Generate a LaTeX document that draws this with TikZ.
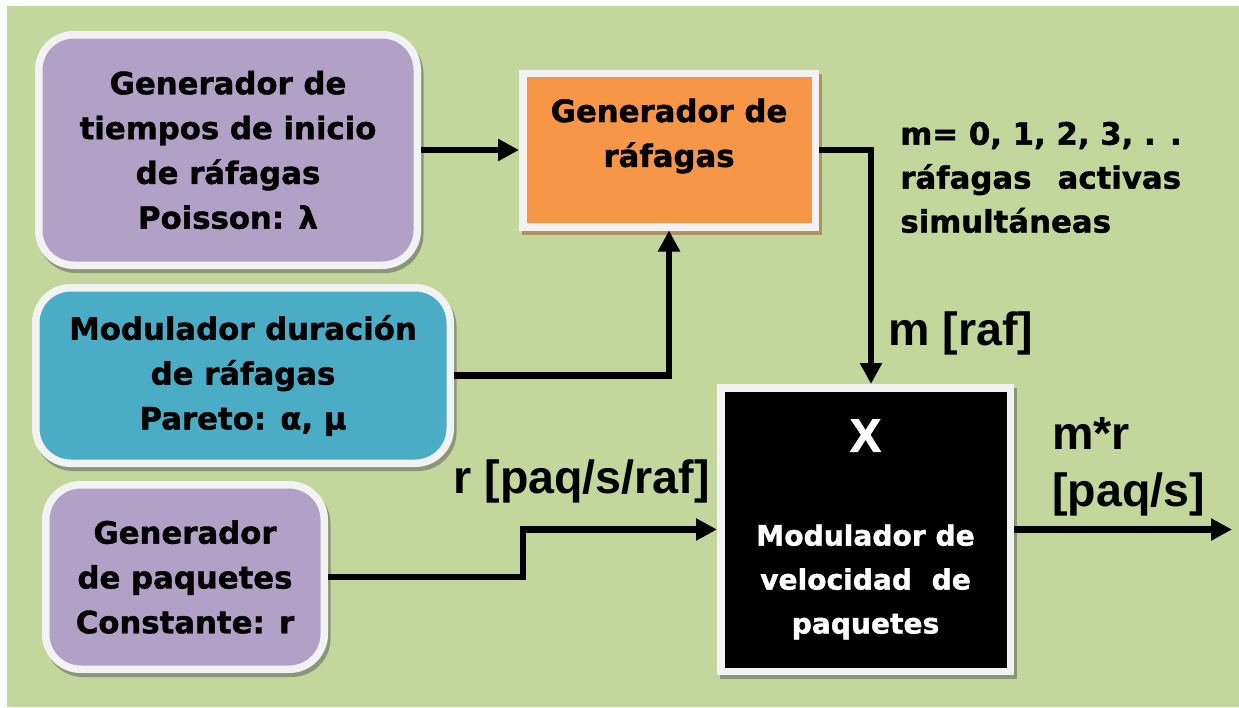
\documentclass[tikz,border=0pt]{standalone}
\usepackage{fontspec}
\setmainfont{DejaVu Sans}[BoldFeatures={FakeBold=1.3}]
\newfontfamily\arialfont{Liberation Sans}
\newfontfamily\heavyarial{Liberation Sans}[BoldFeatures={FakeBold=2}]
\usetikzlibrary{positioning,arrows.meta,shadows}
\definecolor{bggreen}{HTML}{C3D69B}
\definecolor{boxpurple}{HTML}{B2A1C7}
\definecolor{boxteal}{HTML}{4BACC6}
\definecolor{boxorange}{HTML}{F79646}
\definecolor{rimwhite}{HTML}{F2F2F2}
\definecolor{shadegray}{HTML}{8E9479}
\definecolor{shadetan}{HTML}{B0925A}
\tikzset{blockbox/.style={draw=rimwhite, line width=0.15cm, outer sep=0.075cm, align=center, font=\fontsize{17.5}{25.5}\selectfont\bfseries, drop shadow={shadow xshift=0.05cm, shadow yshift=-0.08cm, opacity=1, fill=#1, draw=#1, line width=0.15cm}}, blockbox/.default=shadegray}
\tikzset{roundbox/.style={blockbox, rounded corners=0.7cm}}
\tikzset{flowarrow/.style={-{Triangle[length=0.42cm,width=0.42cm]}, line width=0.13cm}}
\tikzset{sidenote/.style={inner sep=0pt, align=left, font=\fontsize{17.5}{25}\selectfont\bfseries}}
\tikzset{biglabel/.style={inner sep=0pt, font=\arialfont\fontsize{26.5}{33}\selectfont\bfseries}}

\begin{document}
\begin{tikzpicture}
\fill[white] (0,0) rectangle (24.78,-14.14);
\useasboundingbox (0,0) rectangle (24.78,-14.14);
\fill[bggreen] (0.14,-0.12) rectangle (24.78,-14.14);
\node[roundbox, fill=boxpurple, minimum width=7.57cm, minimum height=4.61cm] (tinicio) at (4.56,-3.0) {Generador de\\tiempos de inicio\\de ráfagas\\Poisson: λ};
\node[blockbox=shadetan, fill=boxorange, minimum width=5.85cm, minimum height=3.07cm, text depth=0.69cm, right=1.96cm of tinicio] (grafagas) {Generador de\\ráfagas};
\node[roundbox, fill=boxteal, minimum width=8.29cm, minimum height=3.51cm, below=0.3cm of tinicio, xshift=0.3cm] (mduracion) {Modulador duración\\de ráfagas\\Pareto: α, μ};
\node[roundbox, fill=boxpurple, minimum width=5.57cm, minimum height=3.69cm, below=0.28cm of mduracion, xshift=-1.16cm] (gpaquetes) {Generador\\de paquetes\\Constante: r};
\node[blockbox, fill=black, text=white, font=\fontsize{16}{25}\selectfont\bfseries, minimum width=5.79cm, minimum height=5.67cm, right=7.78cm of gpaquetes, yshift=0.95cm] (mvelocidad) {{\heavyarial\fontsize{26.5}{30}\selectfont X}\\[1.0cm]Modulador de\\velocidad\ \ de\\paquetes};
\coordinate[right=4.36cm of mvelocidad.east] (salida);
\draw[flowarrow] (tinicio.east) -- (grafagas.west);
\draw[flowarrow] (mduracion.east) -| (grafagas.south);
\draw[flowarrow] (grafagas.east) -| ([xshift=0.11cm]mvelocidad.north);
\draw[flowarrow] (gpaquetes.east) -- ++(3.9,0) |- (mvelocidad.west);
\draw[flowarrow] (mvelocidad.east) -- (salida);
\node[sidenote, anchor=north west] (nactivas) at ([xshift=1.62cm,yshift=-1.04cm]grafagas.north east) {m= 0, 1, 2, 3, . .\\ráfagas\hspace{0.85em}activas\\simultáneas};
\node[biglabel, anchor=base west] (mraf) at ([xshift=0.45cm,yshift=0.78cm]mvelocidad.north) {m [raf]};
\node[biglabel, anchor=base east] (rpaq) at ([xshift=-0.14cm,yshift=0.73cm]mvelocidad.west) {r [paq/s/raf]};
\node[biglabel, align=left, anchor=south west] (mrpaq) at ([xshift=0.76cm,yshift=0.25cm]mvelocidad.east) {m*r\\{[paq/s]}};
\end{tikzpicture}
\end{document}
